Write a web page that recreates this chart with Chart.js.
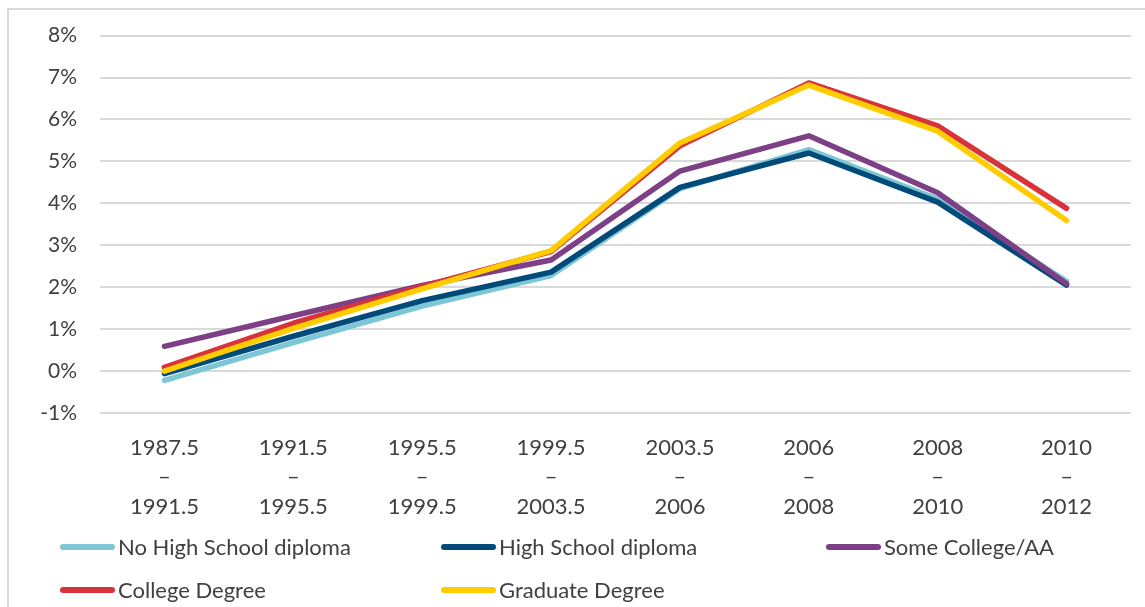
<!DOCTYPE html>
<html>
<head>
<meta charset="utf-8">
<script src="https://cdn.jsdelivr.net/npm/chart.js@4.4.1/dist/chart.umd.min.js"></script>
<style>
  html, body { margin: 0; padding: 0; background: #fff; }
  #wrap { position: relative; width: 1145px; height: 607px; overflow: hidden; }
  #frame { position: absolute; left: 7px; top: 8px; width: 1200px; height: 700px; border: 2px solid #d9d9d9; box-sizing: border-box; }
  canvas { position: absolute; left: 0; top: 0; }
</style>
</head>
<body>
<div id="wrap">
  <div id="frame"></div>
  <canvas id="chart" width="1145" height="607"></canvas>
</div>
<script>
// periods (x axis)
const categories = [
  ['1987.5', '–', '1991.5'],
  ['1991.5', '–', '1995.5'],
  ['1995.5', '–', '1999.5'],
  ['1999.5', '–', '2003.5'],
  ['2003.5', '–', '2006'],
  ['2006', '–', '2008'],
  ['2008', '–', '2010'],
  ['2010', '–', '2012']
];

// annualized growth, percent
const noHighSchool = [-0.22, 0.68, 1.55, 2.28, 4.35, 5.28, 4.10, 2.14];
const highSchool   = [-0.06, 0.83, 1.68, 2.36, 4.38, 5.20, 4.03, 2.05];
const someCollege  = [0.59, 1.32, 2.04, 2.65, 4.77, 5.61, 4.25, 2.08];
const college      = [0.09, 1.14, 2.02, 2.85, 5.37, 6.87, 5.85, 3.88];
const graduate     = [0.00, 1.02, 1.96, 2.87, 5.44, 6.82, 5.72, 3.59];

const seriesNames = ['No High School diploma', 'High School diploma', 'Some College/AA', 'College Degree', 'Graduate Degree'];
const seriesColors = ['#7cc6d6', '#004b7a', '#7d3f86', '#d73338', '#ffcc00'];
const seriesValues = [noHighSchool, highSchool, someCollege, college, graduate];

const textColor = '#404040';
const fontFamily = 'Lato, "Open Sans", sans-serif';

// legend laid out in fixed columns like the spreadsheet one
const legendX = [60, 441, 826];
const legendY = [547, 590];

const excelLegend = {
  id: 'excelLegend',
  afterDraw(chart) {
    const ctx = chart.ctx;
    chart.data.datasets.forEach((ds, i) => {
      const x = legendX[i % 3];
      const y = legendY[Math.floor(i / 3)];
      ctx.save();
      ctx.strokeStyle = ds.borderColor;
      ctx.lineWidth = 6;
      ctx.lineCap = 'round';
      ctx.beginPath();
      ctx.moveTo(x + 3, y);
      ctx.lineTo(x + 52, y);
      ctx.stroke();
      ctx.fillStyle = textColor;
      ctx.font = '22px ' + fontFamily;
      ctx.textBaseline = 'middle';
      ctx.fillText(ds.label, x + 58, y + 1);
      ctx.restore();
    });
  }
};

const datasets = seriesNames.map((name, i) => ({
  label: name,
  data: seriesValues[i],
  borderColor: seriesColors[i],
  backgroundColor: seriesColors[i],
  borderWidth: 5.5,
  pointRadius: 0,
  tension: 0,
  borderCapStyle: 'round',
  borderJoinStyle: 'round',
  order: seriesNames.length - i
}));

new Chart(document.getElementById('chart'), {
  type: 'line',
  data: { labels: categories, datasets: datasets },
  options: {
    responsive: false,
    animation: false,
    devicePixelRatio: 1,
    layout: { padding: { left: 0, right: 14, top: 32, bottom: 74 } },
    plugins: {
      legend: { display: false },
      tooltip: { enabled: false }
    },
    scales: {
      x: {
        offset: true,
        grid: { display: false, drawTicks: false },
        border: { display: false },
        ticks: {
          color: textColor,
          font: { family: fontFamily, size: 22, lineHeight: 1.345 },
          padding: 20,
          maxRotation: 0,
          autoSkip: false
        },
        afterFit: (s) => { s.height = 120; }
      },
      y: {
        min: -1,
        max: 8,
        grid: { color: '#d9d9d9', lineWidth: 2, drawTicks: false },
        border: { display: false },
        ticks: {
          stepSize: 1,
          color: textColor,
          font: { family: fontFamily, size: 21 },
          padding: 23,
          callback: (v) => v + '%'
        },
        afterFit: (s) => { s.width = 100; }
      }
    }
  },
  plugins: [excelLegend]
});
</script>
</body>
</html>
